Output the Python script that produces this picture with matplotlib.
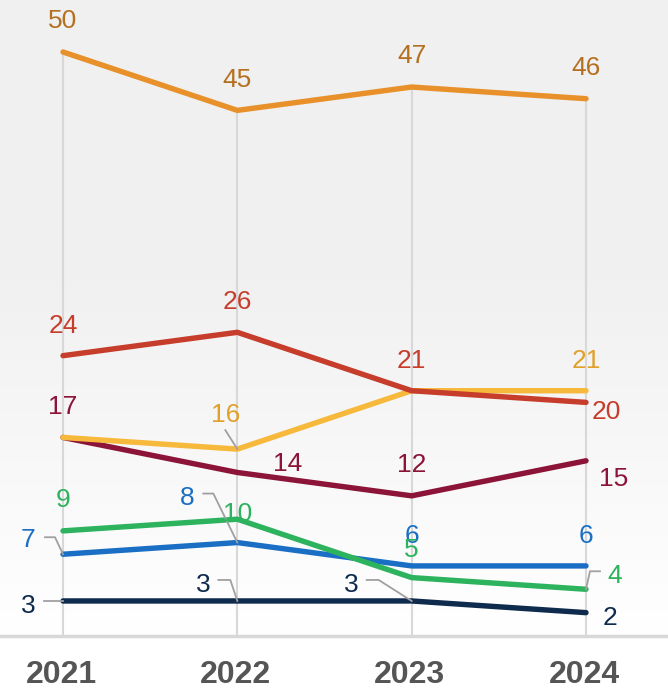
import numpy as np
import matplotlib.pyplot as plt
from matplotlib.transforms import IdentityTransform

years = ["2021", "2022", "2023", "2024"]

orange = [50, 45, 47, 46]
red = [24, 26, 21, 20]
yellow = [17, 16, 21, 21]
maroon = [17, 14, 12, 15]
green = [9, 10, 5, 4]
blue = [7, 8, 6, 6]
navy = [3, 3, 3, 2]

# (values, line colour, label colour), drawn bottom to top
series = [
    (navy, '#0e2b4e', '#0e2b4e'),
    (blue, '#1a6fc4', '#1a6fc4'),
    (green, '#2db35d', '#2db35d'),
    (maroon, '#8c1438', '#8c1438'),
    (yellow, '#f7b93b', '#e0a02a'),
    (red, '#c63d2c', '#c63d2c'),
    (orange, '#e8912a', '#b5701f'),
]
names = ['navy', 'blue', 'green', 'maroon', 'yellow', 'red', 'orange']

# label offsets in pixels (dx, dy) from each point, None = no label
label_pos = {
    'orange': [(0, 33), (0, 32), (0, 33), (0, 33)],
    'red': [(0, 32), (0, 32), (0, 32), (20, -8)],
    'yellow': [None, (-12, 36), None, (0, 32)],
    'maroon': [(0, 32), (50, 10), (0, 33), (28, -16)],
    'green': [(0, 33), (0, 7), (0, 30), (29, 15)],
    'blue': [(-35, 16), (-50, 47), (0, 32), (0, 32)],
    'navy': [(-35, -3), (-34, 18), (-60, 18), (24, -3)],
}
# leader polylines, pixel offsets ending at the point
leaders = {
    ('yellow', 1): [(-12, 19), (0, 0)],
    ('green', 3): [(14, 18), (4, 18), (0, 0)],
    ('blue', 0): [(-18, 17), (-8, 17), (0, 0)],
    ('blue', 1): [(-34, 49), (-24, 49), (0, 0)],
    ('navy', 0): [(-19, 0), (0, 0)],
    ('navy', 1): [(-19, 21), (-7, 21), (0, 0)],
    ('navy', 2): [(-45, 21), (-33, 21), (0, 0)],
}

fig = plt.figure(figsize=(6.68, 6.91), dpi=100)
fig.patch.set_facecolor('white')
ax = fig.add_axes([0, 55 / 691, 1, 636 / 691])
x = np.arange(len(years))
xlim = (-0.3614, 3.4704)
ylim = (0, 54.45)

# soft vertical background gradient
grad = np.clip(np.linspace(0, 1, 256) / 0.55, 0, 1)
shade = 1 - 0.055 * grad
img = np.dstack([shade, shade, shade]).reshape(256, 1, 3)
ax.imshow(img, extent=[xlim[0], xlim[1], ylim[1], ylim[0]], aspect='auto',
          zorder=0, origin='upper')
ax.set_xlim(*xlim)
ax.set_ylim(*ylim)

all_vals = np.array([s[0] for s in series])
ax.vlines(x, 0, all_vals.max(axis=0), color='#d8d8d8', lw=1.5, zorder=1)
ax.axhline(0, color='#d8d8d8', lw=2.5, zorder=1, clip_on=False)

for vals, lc, tc in series:
    ax.plot(x, vals, color=lc, lw=3.9, solid_capstyle='round',
            solid_joinstyle='round', zorder=3)

fig.canvas.draw()
for name, (vals, lc, tc) in zip(names, series):
    for i, v in enumerate(vals):
        pos = label_pos[name][i]
        if pos is None:
            continue
        px, py = ax.transData.transform((x[i], v))
        ax.text(px + pos[0], py + pos[1] - 2, str(v),
                transform=IdentityTransform(), ha='center', va='center',
                fontsize=19, color=tc,
                family=['Liberation Sans', 'DejaVu Sans'], zorder=5)
        if (name, i) in leaders:
            pts = np.array(leaders[(name, i)], dtype=float)
            ax.plot(px + pts[:, 0], py + pts[:, 1], color='#a0a0a0', lw=1.3,
                    transform=IdentityTransform(), zorder=4)

for i, yr in enumerate(years):
    px, py = ax.transData.transform((x[i], 0))
    ax.text(px - 2, py - 39, yr, transform=IdentityTransform(), ha='center',
            va='center', fontsize=23, fontweight='bold', color='#555555',
            family=['Liberation Sans', 'DejaVu Sans'])

ax.axis('off')
fig.savefig('out.png', dpi=100)
